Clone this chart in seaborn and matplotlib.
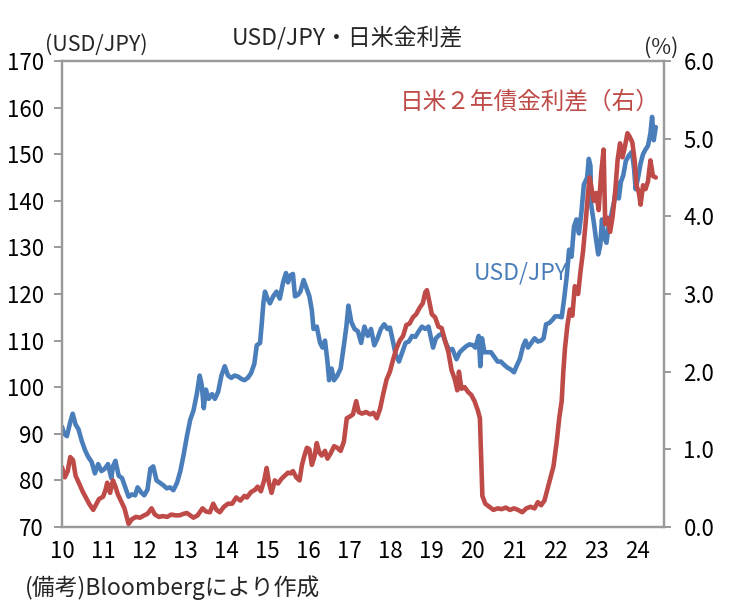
import numpy as np
import pandas as pd
import matplotlib
matplotlib.use("Agg")
import matplotlib.pyplot as plt
import seaborn as sns

sns.set_style("white")
plt.rcParams['font.family'] = ['Noto Sans CJK JP', 'DejaVu Sans']

# ---- data ----
usd_t = [2010.00, 2010.05, 2010.12, 2010.20, 2010.26, 2010.33, 2010.40, 2010.48, 2010.56, 2010.64,
         2010.72, 2010.80, 2010.88, 2010.96, 2011.04, 2011.12, 2011.20, 2011.24, 2011.30, 2011.38,
         2011.46, 2011.54, 2011.62, 2011.70, 2011.78, 2011.84, 2011.92, 2012.00, 2012.08, 2012.15,
         2012.22, 2012.30, 2012.38, 2012.46, 2012.55, 2012.63, 2012.71, 2012.80, 2012.88, 2012.96,
         2013.04, 2013.12, 2013.20, 2013.28, 2013.35, 2013.40, 2013.45, 2013.50, 2013.57, 2013.65,
         2013.72, 2013.80, 2013.88, 2013.96, 2014.04, 2014.12, 2014.20, 2014.28, 2014.36, 2014.44,
         2014.52, 2014.60, 2014.68, 2014.74, 2014.82, 2014.86, 2014.90, 2014.94, 2015.00, 2015.06,
         2015.14, 2015.22, 2015.30, 2015.38, 2015.45, 2015.50, 2015.56, 2015.62, 2015.67, 2015.74,
         2015.80, 2015.88, 2015.96, 2016.02, 2016.08, 2016.12, 2016.20, 2016.28, 2016.34, 2016.40,
         2016.46, 2016.50, 2016.56, 2016.62, 2016.70, 2016.78, 2016.86, 2016.92, 2016.97, 2017.04,
         2017.12, 2017.20, 2017.28, 2017.36, 2017.44, 2017.52, 2017.60, 2017.68, 2017.76, 2017.84,
         2017.92, 2017.98, 2018.05, 2018.12, 2018.20, 2018.28, 2018.36, 2018.44, 2018.52, 2018.60,
         2018.68, 2018.76, 2018.84, 2018.92, 2018.98, 2019.03, 2019.10, 2019.18, 2019.26, 2019.34,
         2019.42, 2019.50, 2019.60, 2019.68, 2019.76, 2019.84, 2019.92, 2020.00, 2020.06, 2020.14,
         2020.18, 2020.22, 2020.28, 2020.36, 2020.44, 2020.52, 2020.60, 2020.68, 2020.76, 2020.84,
         2020.92, 2021.00, 2021.06, 2021.14, 2021.22, 2021.28, 2021.34, 2021.42, 2021.50, 2021.58,
         2021.66, 2021.72, 2021.78, 2021.86, 2021.94, 2022.00, 2022.08, 2022.16, 2022.22, 2022.28,
         2022.34, 2022.40, 2022.46, 2022.52, 2022.58, 2022.64, 2022.70, 2022.78, 2022.82, 2022.86,
         2022.88, 2022.94, 2023.00, 2023.05, 2023.10, 2023.14, 2023.20, 2023.25, 2023.30, 2023.38,
         2023.44, 2023.50, 2023.55, 2023.60, 2023.66, 2023.72, 2023.80, 2023.87, 2023.92, 2023.96,
         2024.02, 2024.08, 2024.14, 2024.20, 2024.26, 2024.32, 2024.36, 2024.40, 2024.45]
usd_jpy = [91.5, 90.0, 89.5, 92.5, 94.3, 92.0, 91.0, 88.5, 86.5, 85.0,
           84.0, 81.5, 83.5, 82.0, 82.5, 83.5, 80.5, 83.0, 84.2, 81.0,
           80.5, 78.5, 76.5, 77.0, 76.8, 78.5, 77.5, 76.8, 78.0, 82.5,
           83.0, 80.0, 79.5, 79.0, 78.3, 78.5, 77.9, 79.5, 82.0, 85.5,
           89.5, 93.0, 95.0, 98.5, 102.5, 100.5, 95.5, 99.5, 97.5, 98.5,
           97.5, 99.0, 102.5, 104.5, 102.5, 102.0, 102.5, 102.3, 101.8, 101.5,
           102.0, 103.0, 105.0, 109.0, 109.5, 113.5, 118.0, 120.5, 119.0, 118.0,
           119.5, 120.5, 119.0, 122.5, 124.5, 122.5, 124.0, 124.3, 119.5, 119.8,
           120.5, 123.0, 121.0, 119.5, 116.5, 112.5, 113.0, 109.5, 108.5, 110.0,
           105.5, 101.5, 104.0, 101.5, 102.5, 104.0, 109.0, 113.0, 117.5, 114.0,
           112.5, 112.0, 109.5, 113.0, 111.0, 112.5, 109.0, 110.5, 112.5, 113.5,
           112.5, 112.8, 110.0, 107.0, 105.5, 107.5, 109.5, 109.8, 111.0, 110.8,
           112.0, 113.0, 112.5, 113.0, 110.5, 108.5, 110.5, 111.2, 111.5, 109.5,
           108.0, 108.2, 106.0, 107.5, 108.2, 108.8, 109.2, 109.0, 108.5, 111.0,
           104.5, 110.5, 107.5, 107.5, 107.5, 106.5, 105.5, 105.5, 104.8, 104.2,
           103.8, 103.2, 104.5, 106.0, 108.8, 110.0, 108.5, 109.5, 110.5, 109.8,
           110.0, 110.5, 113.5, 113.8, 114.5, 115.2, 115.2, 115.0, 119.0, 123.5,
           129.5, 128.0, 134.5, 136.0, 133.0, 137.5, 143.5, 145.0, 149.0, 147.5,
           139.0, 135.5, 131.5, 128.5, 130.5, 136.0, 132.0, 131.0, 134.5, 137.5,
           140.0, 144.0, 140.5, 144.0, 145.5, 148.5, 149.8, 150.5, 147.0, 142.5,
           145.0, 148.0, 150.0, 151.0, 151.8, 154.5, 158.0, 153.0, 155.8]

spread_t = [2010.00, 2010.07, 2010.14, 2010.20, 2010.27, 2010.33, 2010.40, 2010.50, 2010.58, 2010.66,
            2010.76, 2010.84, 2010.90, 2011.00, 2011.06, 2011.10, 2011.17, 2011.24, 2011.30, 2011.36,
            2011.45, 2011.52, 2011.58, 2011.62, 2011.70, 2011.80, 2011.90, 2012.00, 2012.08, 2012.18,
            2012.26, 2012.36, 2012.46, 2012.56, 2012.66, 2012.76, 2012.86, 2012.96, 2013.04, 2013.12,
            2013.20, 2013.30, 2013.42, 2013.50, 2013.60, 2013.68, 2013.76, 2013.84, 2013.94, 2014.04,
            2014.14, 2014.24, 2014.34, 2014.44, 2014.50, 2014.60, 2014.70, 2014.76, 2014.84, 2014.92,
            2014.98, 2015.04, 2015.10, 2015.18, 2015.26, 2015.34, 2015.42, 2015.50, 2015.56, 2015.62,
            2015.70, 2015.78, 2015.84, 2015.90, 2015.96, 2016.02, 2016.08, 2016.14, 2016.20, 2016.26,
            2016.32, 2016.40, 2016.46, 2016.54, 2016.62, 2016.70, 2016.78, 2016.86, 2016.93, 2017.00,
            2017.08, 2017.16, 2017.22, 2017.30, 2017.40, 2017.50, 2017.58, 2017.66, 2017.74, 2017.82,
            2017.90, 2017.98, 2018.06, 2018.14, 2018.22, 2018.30, 2018.38, 2018.46, 2018.54, 2018.62,
            2018.70, 2018.78, 2018.84, 2018.88, 2018.94, 2019.00, 2019.08, 2019.16, 2019.24, 2019.32,
            2019.40, 2019.48, 2019.56, 2019.62, 2019.66, 2019.72, 2019.80, 2019.88, 2019.96, 2020.04,
            2020.12, 2020.17, 2020.20, 2020.23, 2020.30, 2020.40, 2020.50, 2020.60, 2020.70, 2020.80,
            2020.90, 2021.00, 2021.10, 2021.20, 2021.30, 2021.40, 2021.50, 2021.58, 2021.66, 2021.74,
            2021.82, 2021.88, 2021.96, 2022.04, 2022.10, 2022.16, 2022.20, 2022.24, 2022.30, 2022.36,
            2022.42, 2022.48, 2022.56, 2022.62, 2022.68, 2022.74, 2022.80, 2022.84, 2022.88, 2022.94,
            2023.00, 2023.06, 2023.12, 2023.18, 2023.22, 2023.28, 2023.34, 2023.40, 2023.46, 2023.52,
            2023.58, 2023.64, 2023.70, 2023.76, 2023.82, 2023.88, 2023.94, 2023.98, 2024.04, 2024.08,
            2024.14, 2024.20, 2024.26, 2024.32, 2024.38, 2024.45]
spread = [0.77, 0.64, 0.72, 0.90, 0.86, 0.66, 0.58, 0.46, 0.38, 0.30,
          0.22, 0.30, 0.36, 0.39, 0.48, 0.57, 0.44, 0.60, 0.52, 0.42,
          0.32, 0.24, 0.12, 0.04, 0.10, 0.13, 0.12, 0.15, 0.17, 0.24,
          0.16, 0.13, 0.14, 0.13, 0.16, 0.15, 0.15, 0.17, 0.18, 0.15,
          0.12, 0.15, 0.24, 0.20, 0.19, 0.30, 0.22, 0.19, 0.26, 0.30,
          0.30, 0.38, 0.34, 0.40, 0.38, 0.45, 0.48, 0.52, 0.46, 0.60,
          0.76, 0.56, 0.44, 0.60, 0.56, 0.62, 0.66, 0.70, 0.69, 0.72,
          0.64, 0.60, 0.80, 0.92, 1.02, 1.00, 0.80, 0.90, 1.08, 0.96,
          0.92, 0.98, 0.88, 0.95, 1.04, 1.02, 0.98, 1.10, 1.40, 1.42,
          1.45, 1.62, 1.48, 1.46, 1.48, 1.45, 1.47, 1.40, 1.52, 1.72,
          1.90, 2.00, 2.16, 2.30, 2.40, 2.46, 2.60, 2.62, 2.70, 2.74,
          2.82, 2.88, 3.02, 3.05, 2.90, 2.74, 2.70, 2.58, 2.56, 2.40,
          2.26, 2.02, 1.90, 1.76, 2.00, 1.78, 1.80, 1.74, 1.70, 1.62,
          1.50, 1.40, 0.90, 0.40, 0.30, 0.26, 0.22, 0.24, 0.23, 0.25,
          0.22, 0.24, 0.22, 0.19, 0.24, 0.26, 0.24, 0.32, 0.28, 0.34,
          0.50, 0.62, 0.78, 1.10, 1.40, 1.62, 2.00, 2.30, 2.60, 2.80,
          2.72, 3.10, 3.00, 3.30, 3.55, 3.90, 4.30, 4.50, 4.38, 4.20,
          4.30, 4.08, 4.55, 4.86, 3.90, 3.98, 3.80, 4.00, 4.30, 4.72,
          4.94, 4.76, 4.90, 5.07, 5.02, 4.95, 4.70, 4.40, 4.30, 4.15,
          4.40, 4.35, 4.45, 4.72, 4.52, 4.50]

year_ticks = list(range(2010, 2025))
year_labels = [f"{y % 100:02d}" for y in year_ticks]
left_ticks = list(range(70, 171, 10))
right_ticks = [0.0, 1.0, 2.0, 3.0, 4.0, 5.0, 6.0]

title = "USD/JPY・日米金利差"
left_unit = "(USD/JPY)"
right_unit = "(%)"
red_label = "日米２年債金利差（右）"
blue_label = "USD/JPY"
note = "(備考)Bloombergにより作成"

BLUE = "#4A7EBB"
RED = "#BE4B48"
GRID = "#9A9A9A"

df_usd = pd.DataFrame({"t": usd_t, "v": usd_jpy})
df_spr = pd.DataFrame({"t": spread_t, "v": spread})

W, H = 732, 616
fig = plt.figure(figsize=(W / 100, H / 100), dpi=100)
L, R, T, B = 62, 664, 61, 527
ax = fig.add_axes([L / W, 1 - B / H, (R - L) / W, (B - T) / H])
ax2 = ax.twinx()

sns.lineplot(data=df_usd, x="t", y="v", ax=ax, color=BLUE, lw=3.3,
             estimator=None, sort=False)
sns.lineplot(data=df_spr, x="t", y="v", ax=ax2, color=RED, lw=3.3,
             estimator=None, sort=False)

ax.set_xlim(2010, 2024.65)
ax.set_ylim(70, 170)
ax2.set_ylim(0, 6)
ax.set_xticks(year_ticks)
ax.set_xticklabels(year_labels)
ax.set_yticks(left_ticks)
ax.set_yticklabels([str(v) for v in left_ticks])
ax2.set_yticks(right_ticks)
ax2.set_yticklabels([f"{v:.1f}" for v in right_ticks])
for a in (ax, ax2):
    a.set_xlabel("")
    a.set_ylabel("")
    for s in a.spines.values():
        s.set_color(GRID)
        s.set_linewidth(1.6)
        s.set_visible(True)

ax.tick_params(axis='x', length=0, pad=9, labelsize=16, colors='black')
ax.tick_params(axis='y', direction='out', length=6, width=1.4, color=GRID,
               pad=7, labelsize=16, labelcolor='black')
ax2.tick_params(axis='y', direction='out', length=5, width=1.4, color=GRID,
                pad=9, labelsize=16, labelcolor='black')

def fx(px):
    return px / W

def fy(py):
    return 1 - py / H

fig.text(fx(347), fy(38), title, ha='center', va='center', fontsize=16.5)
fig.text(fx(45), fy(45), left_unit, ha='left', va='center', fontsize=15.5)
fig.text(fx(661), fy(48), right_unit, ha='center', va='center', fontsize=15.5)
fig.text(fx(530), fy(102), red_label, ha='center', va='center', fontsize=17, color=RED)
fig.text(fx(521), fy(273), blue_label, ha='center', va='center', fontsize=16.5, color=BLUE)
fig.text(fx(25), fy(588), note, ha='left', va='center', fontsize=16.5)

fig.savefig("out.png", dpi=100)
